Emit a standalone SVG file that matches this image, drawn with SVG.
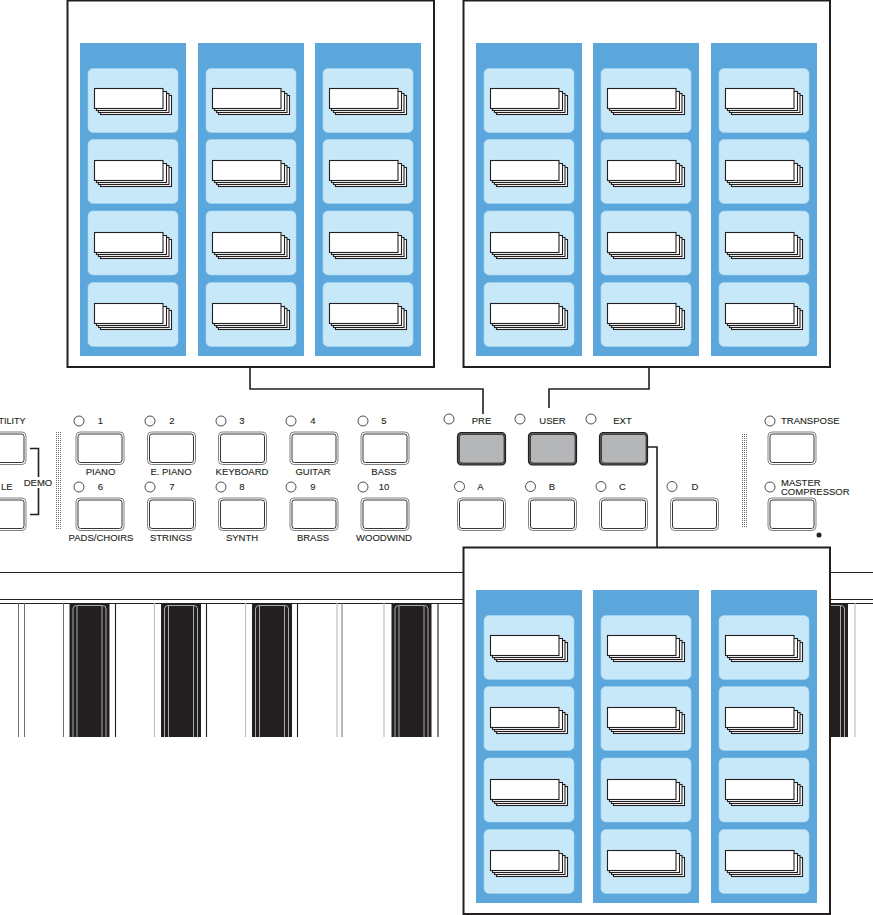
<svg xmlns="http://www.w3.org/2000/svg" xmlns:xlink="http://www.w3.org/1999/xlink" width="873" height="915" viewBox="0 0 873 915">
<style>
text{font-family:"Liberation Sans",Arial,sans-serif;font-size:9.5px;fill:#231f20;stroke:#231f20;stroke-width:.12;text-anchor:middle}
.l{text-anchor:start}.e{text-anchor:end}
.panel{fill:#fff;stroke:#231f20;stroke-width:2}
.col{fill:#5ba7dc}.card{fill:#c7e8f9;stroke:#a9d6f0;stroke-width:.6}
.pg{fill:#fff;stroke:#231f20;stroke-width:1.1}
.led{fill:#fff;stroke:#231f20;stroke-width:.8}
.b1{fill:#fff;stroke:#808285;stroke-width:1}.b2{fill:#fff;stroke:#231f20;stroke-width:.9}
.d1{fill:#58595b;stroke:#231f20;stroke-width:1.2}.d2{fill:#b5b6b8;stroke:#231f20;stroke-width:.7}
.wire{fill:none;stroke:#231f20;stroke-width:1.6}
.thin{stroke:#231f20;stroke-width:1.1;fill:none}
.gr{stroke:#6d6e71;stroke-width:1;fill:none}.lg{stroke:#bcbec0;stroke-width:1.2;fill:none}
.blk{fill:#231f20}.hl{fill:none;stroke:#a7a9ac;stroke-width:1}
.dots{fill:url(#stip)}
</style>
<defs>
<pattern id="stip" width="2" height="2" patternUnits="userSpaceOnUse"><rect width="1" height="1" fill="#6d6e71"/></pattern>
<g id="stack"><rect class="pg" x="6" y="7" width="71" height="19"/><rect class="pg" x="4" y="5" width="70.500" height="19"/><rect class="pg" x="2" y="3" width="70" height="19"/><rect class="pg" x="0" y="0" width="68.500" height="20"/></g>
<g id="cards">
<rect class="col" x="0" y="0" width="106" height="313"/>
<rect class="card" x="8" y="25.500" width="90" height="64" rx="5"/><use xlink:href="#stack" x="14.500" y="45.500"/>
<rect class="card" x="8" y="96.500" width="90" height="64" rx="5"/><use xlink:href="#stack" x="14.500" y="117.500"/>
<rect class="card" x="8" y="168" width="90" height="64" rx="5"/><use xlink:href="#stack" x="14.500" y="189.500"/>
<rect class="card" x="8" y="239.500" width="90" height="64" rx="5"/><use xlink:href="#stack" x="14.500" y="260.500"/>
</g>
<g id="btn"><rect class="b1" x="0" y="0" width="48" height="32.500" rx="4"/><rect class="b2" x="2" y="2" width="44" height="28.500" rx="2.500"/></g>
<g id="dbtn"><rect class="d1" x="0" y="0" width="48" height="32.500" rx="4"/><rect class="d2" x="2" y="2" width="44.500" height="28.500" rx="2.500"/></g>
<g id="bk"><rect class="blk" x="0" y="0" width="40" height="134"/><path d="M3.500 134V6q0-3.500 3.500-3.500H33q3.500 0 3.500 3.500V134M7.500 134V3M32.500 134V3" class="hl"/></g>
</defs>

<g id="keyboard">
<path class="thin" d="M0 572.500H873M0 599.500H873M0 603.500H873"/>
<path class="gr" d="M18.500 603V737M24.500 603V737M63.500 603V737M342 603V737"/>
<path class="lg" d="M154.500 603V737M245.500 603V737M337 603V737M384 603V737M855 603V737"/>
<path class="thin" d="M115.500 603V737M206.500 603V737M297.500 603V737M438 603V737"/>
<use xlink:href="#bk" x="69.500" y="603"/><use xlink:href="#bk" x="161" y="603"/><use xlink:href="#bk" x="252" y="603"/><use xlink:href="#bk" x="391.500" y="603"/><use xlink:href="#bk" x="808" y="603"/>
</g>

<g id="panel-left"><rect class="panel" x="67.500" y="0.500" width="366.500" height="366.500"/><use xlink:href="#cards" x="80" y="43"/><use xlink:href="#cards" x="198" y="43"/><use xlink:href="#cards" x="315" y="43"/></g>
<g id="panel-right"><rect class="panel" x="463.500" y="0.500" width="366.500" height="366.500"/><use xlink:href="#cards" x="476" y="43"/><use xlink:href="#cards" x="593" y="43"/><use xlink:href="#cards" x="711" y="43"/></g>

<g id="connectors">
<path class="wire" d="M250 367V389H483V414"/>
<path class="wire" d="M649 367V389H549V408"/>
<path class="wire" d="M646 447H657V547"/>
</g>

<g id="panel-bottom"><rect class="panel" x="463.500" y="547.500" width="366.500" height="366.500"/><use xlink:href="#cards" x="476" y="590"/><use xlink:href="#cards" x="593" y="590"/><use xlink:href="#cards" x="711" y="590"/></g>

<g id="left-cut">
<text class="e" x="25.500" y="424" style="font-size:9px">TILITY</text>
<text class="e" x="12.500" y="490">LE</text>
<use xlink:href="#btn" x="-22" y="432"/>
<use xlink:href="#btn" x="-22" y="498"/>
<path class="wire" d="M30 448.500H38.500V477M38.500 488V514.500H30"/>
<text x="38" y="485.500">DEMO</text>
<rect class="dots" x="55" y="432" width="7" height="98"/>
</g>

<g id="btn-1"><circle class="led" cx="79" cy="421" r="5"/><text x="100.500" y="424">1</text><use xlink:href="#btn" x="76" y="432"/><text x="100.500" y="475">PIANO</text></g>
<g id="btn-2"><circle class="led" cx="150" cy="421" r="5"/><text x="172" y="424">2</text><use xlink:href="#btn" x="147.500" y="432"/><text x="171" y="475">E. PIANO</text></g>
<g id="btn-3"><circle class="led" cx="221" cy="421" r="5"/><text x="242" y="424">3</text><use xlink:href="#btn" x="218.500" y="432"/><text x="242" y="475">KEYBOARD</text></g>
<g id="btn-4"><circle class="led" cx="291" cy="421" r="5"/><text x="313" y="424">4</text><use xlink:href="#btn" x="290" y="432"/><text x="313" y="475">GUITAR</text></g>
<g id="btn-5"><circle class="led" cx="363" cy="421" r="5"/><text x="384" y="424">5</text><use xlink:href="#btn" x="361" y="432"/><text x="384" y="475">BASS</text></g>
<g id="btn-6"><circle class="led" cx="79" cy="487" r="5"/><text x="100.500" y="490">6</text><use xlink:href="#btn" x="76" y="498"/><text x="101" y="541">PADS/CHOIRS</text></g>
<g id="btn-7"><circle class="led" cx="150" cy="487" r="5"/><text x="172" y="490">7</text><use xlink:href="#btn" x="147.500" y="498"/><text x="171" y="541">STRINGS</text></g>
<g id="btn-8"><circle class="led" cx="221" cy="487" r="5"/><text x="242" y="490">8</text><use xlink:href="#btn" x="218.500" y="498"/><text x="242" y="541">SYNTH</text></g>
<g id="btn-9"><circle class="led" cx="291" cy="487" r="5"/><text x="313" y="490">9</text><use xlink:href="#btn" x="290" y="498"/><text x="313" y="541">BRASS</text></g>
<g id="btn-10"><circle class="led" cx="363" cy="487" r="5"/><text x="384" y="490">10</text><use xlink:href="#btn" x="361" y="498"/><text x="384" y="541">WOODWIND</text></g>

<g id="btn-pre"><circle class="led" cx="449" cy="419" r="5"/><text x="481.500" y="424">PRE</text><use xlink:href="#dbtn" x="457.500" y="432.500"/></g>
<g id="btn-user"><circle class="led" cx="520" cy="419" r="5"/><text x="552.500" y="424">USER</text><use xlink:href="#dbtn" x="528.500" y="432.500"/></g>
<g id="btn-ext"><circle class="led" cx="591" cy="419" r="5"/><text x="622.500" y="424">EXT</text><use xlink:href="#dbtn" x="599.500" y="432.500"/></g>
<g id="btn-a"><circle class="led" cx="459.500" cy="486.500" r="5"/><text x="480.500" y="490">A</text><use xlink:href="#btn" x="457.500" y="498"/></g>
<g id="btn-b"><circle class="led" cx="530.500" cy="486.500" r="5"/><text x="552" y="490">B</text><use xlink:href="#btn" x="528.500" y="498"/></g>
<g id="btn-c"><circle class="led" cx="601" cy="486.500" r="5"/><text x="622.500" y="490">C</text><use xlink:href="#btn" x="599.500" y="498"/></g>
<g id="btn-d"><circle class="led" cx="672" cy="486.500" r="5"/><text x="695" y="490">D</text><use xlink:href="#btn" x="670.500" y="498"/></g>

<rect class="dots" x="741" y="434" width="7" height="94"/>
<g id="btn-transpose"><circle class="led" cx="770" cy="421" r="5"/><text class="l" x="781" y="424">TRANSPOSE</text><use xlink:href="#btn" x="768" y="432"/></g>
<g id="btn-master"><circle class="led" cx="770" cy="487" r="5"/><text class="l" x="781" y="485.500">MASTER</text><text class="l" x="781" y="495.300">COMPRESSOR</text><use xlink:href="#btn" x="768" y="498"/><circle class="blk" cx="819" cy="535" r="2.500"/></g>
</svg>
